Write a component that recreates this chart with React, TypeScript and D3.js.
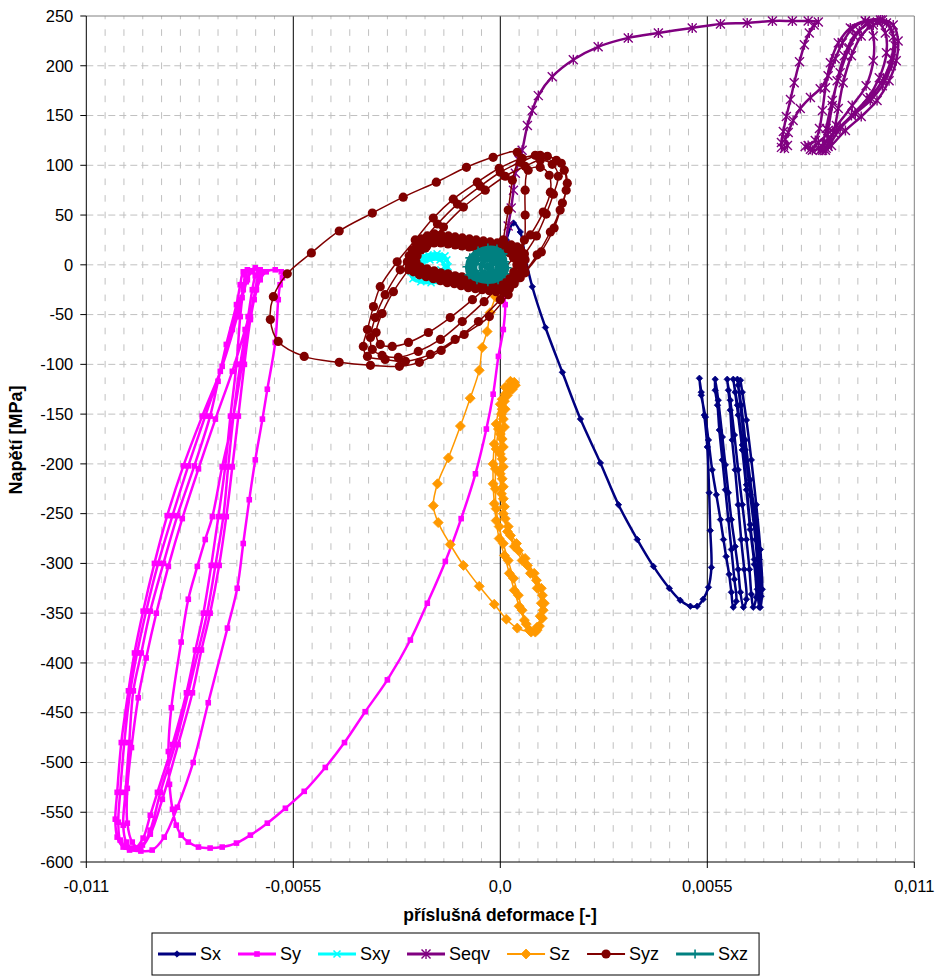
import React from "react";
import * as d3 from "d3";

type P = [number, number];

const seriesNames = ["Sx", "Sy", "Sxy", "Seqv", "Sz", "Syz", "Sxz"];
const xTickValues = [-0.011, -0.0055, 0, 0.0055, 0.011];
const xTickLabels = ["-0,011", "-0,0055", "0,0", "0,0055", "0,011"];
const yTickValues = [250, 200, 150, 100, 50, 0, -50, -100, -150, -200, -250, -300, -350, -400, -450, -500, -550, -600];

const sxData: P[] = [
  [0, 3], [0.00016, 25], [0.00035, 42], [0.00053, 33], [0.00066, 8], [0.00085, -22], [0.0012, -63], [0.00165, -108], [0.00213, -155], [0.00266, -199], [0.00314, -241], [0.00364, -276], [0.00407, -303], [0.00449, -325], [0.00478, -337], [0.00505, -343], [0.00523, -343], [0.00539, -336], [0.00553, -324], [0.00561, -304], [0.00558, -267], [0.00555, -229], [0.0055, -183], [0.00542, -151], [0.00534, -128], [0.00529, -114],
  [0.00534, -131], [0.00545, -153], [0.00553, -176], [0.00563, -206], [0.00574, -231], [0.00585, -256], [0.00593, -276], [0.006, -293], [0.00608, -311], [0.00614, -329], [0.00619, -344],
  [0.00627, -338], [0.00622, -316], [0.00614, -286], [0.00606, -256], [0.00598, -226], [0.0059, -196], [0.00582, -166], [0.00577, -141], [0.00571, -126], [0.00571, -115],
  [0.00579, -136], [0.0059, -173], [0.00598, -201], [0.00606, -229], [0.00614, -256], [0.00624, -283], [0.00632, -306], [0.00638, -329], [0.00646, -344],
  [0.00654, -336], [0.00648, -306], [0.0064, -276], [0.00632, -241], [0.00624, -206], [0.00616, -176], [0.00611, -146], [0.00606, -126], [0.00603, -115],
  [0.00611, -136], [0.00622, -171], [0.00632, -206], [0.00643, -241], [0.00654, -276], [0.00662, -306], [0.00667, -331], [0.00672, -344],
  [0.0068, -334], [0.00675, -301], [0.00664, -266], [0.00654, -226], [0.00643, -186], [0.00632, -151], [0.00624, -128], [0.00619, -115],
  [0.0063, -141], [0.00643, -181], [0.00654, -221], [0.00664, -261], [0.00675, -296], [0.00683, -326], [0.00688, -344],
  [0.00693, -333], [0.00688, -296], [0.00678, -256], [0.00664, -216], [0.00651, -176], [0.0064, -141], [0.00632, -121], [0.0063, -115],
  [0.00638, -141], [0.00651, -186], [0.00664, -231], [0.00678, -276], [0.00686, -316], [0.00691, -344],
  [0.00696, -326], [0.00691, -286], [0.0068, -241], [0.00667, -196], [0.00654, -156], [0.00643, -128], [0.00638, -116],
];

const syData: P[] = [
  [0, 3], [0.00003, -15], [0.00013, -40], [0.00008, -65], [-0.00005, -92], [-0.00019, -130], [-0.00037, -165], [-0.00066, -210], [-0.00104, -255], [-0.00146, -298], [-0.00194, -340], [-0.00239, -377], [-0.003, -417], [-0.00359, -449], [-0.00414, -480], [-0.00465, -505], [-0.00521, -529], [-0.00571, -546], [-0.00619, -561], [-0.00664, -573], [-0.00701, -581], [-0.00739, -585], [-0.00771, -586], [-0.00802, -585], [-0.00829, -580], [-0.00848, -573], [-0.00861, -563], [-0.00871, -547], [-0.00879, -522], [-0.00882, -489], [-0.00874, -445], [-0.00848, -379], [-0.00829, -336], [-0.00805, -303], [-0.00784, -276], [-0.00765, -253], [-0.00739, -203], [-0.00709, -152], [-0.00686, -100], [-0.00664, -52], [-0.00651, -25], [-0.00643, -10], [-0.00638, -5],
  [-0.00651, -3], [-0.00664, -7], [-0.00675, -17], [-0.00691, -35], [-0.00712, -65], [-0.00744, -107], [-0.00784, -152], [-0.00829, -202], [-0.00871, -252], [-0.00909, -300], [-0.00941, -348], [-0.00965, -390], [-0.00983, -428], [-0.00999, -480], [-0.0101, -530], [-0.01015, -560], [-0.0101, -578], [-0.00994, -585],
  [-0.0097, -586], [-0.00949, -576], [-0.0093, -553], [-0.00911, -530], [-0.00871, -482], [-0.00834, -430], [-0.0081, -387], [-0.00789, -350], [-0.00768, -302], [-0.00749, -253], [-0.00731, -203], [-0.00717, -152], [-0.00701, -100], [-0.00691, -52], [-0.00683, -25], [-0.00678, -10], [-0.00672, -5],
  [-0.00683, -7], [-0.00691, -20], [-0.00701, -40], [-0.00728, -80], [-0.0075, -117], [-0.00771, -152], [-0.00813, -202], [-0.00858, -252], [-0.00895, -300], [-0.0093, -348], [-0.00954, -390], [-0.00975, -428], [-0.00986, -480], [-0.00996, -530], [-0.01002, -563], [-0.00994, -580], [-0.00975, -586],
  [-0.00951, -583], [-0.0093, -568], [-0.00903, -530], [-0.00864, -482], [-0.00829, -430], [-0.00802, -387], [-0.00779, -350], [-0.00757, -302], [-0.00736, -253], [-0.00723, -203], [-0.00709, -152], [-0.00691, -100], [-0.0067, -52], [-0.00659, -25], [-0.00651, -11], [-0.00643, -5],
  [-0.00659, -6], [-0.00672, -15], [-0.00686, -33], [-0.00699, -52], [-0.00739, -102], [-0.00792, -152], [-0.00842, -202], [-0.00885, -252], [-0.00919, -300], [-0.00949, -348], [-0.00972, -390], [-0.00988, -428], [-0.01007, -480], [-0.01018, -530], [-0.01023, -557], [-0.01018, -575], [-0.01002, -585],
  [-0.00985, -588], [-0.00955, -589], [-0.00925, -588], [-0.00893, -575], [-0.00858, -545], [-0.00816, -500], [-0.00776, -440], [-0.00725, -365], [-0.00699, -325], [-0.00683, -280], [-0.00667, -236], [-0.00651, -196], [-0.00632, -155], [-0.00619, -125], [-0.00598, -78], [-0.0059, -35], [-0.00585, -20], [-0.00579, -13], [-0.00582, -7],
  [-0.00598, -5], [-0.00622, -7], [-0.00638, -15], [-0.00654, -35], [-0.00678, -65], [-0.00712, -107], [-0.00757, -155], [-0.00802, -205], [-0.00845, -255], [-0.00882, -303], [-0.00914, -350], [-0.00941, -395], [-0.00962, -435], [-0.0098, -485], [-0.00991, -526], [-0.00991, -561], [-0.00978, -580], [-0.00957, -586],
  [-0.0093, -572], [-0.00898, -537], [-0.00856, -482], [-0.00818, -430], [-0.00794, -387], [-0.00771, -350], [-0.00747, -302], [-0.00728, -253], [-0.00712, -203], [-0.00696, -152], [-0.0068, -100], [-0.00664, -55], [-0.00648, -25], [-0.00632, -7],
];

const sxyData: P[] = [
  [-0.00147, 9], [-0.00168, 11], [-0.00192, 10], [-0.00213, 7], [-0.00229, 1], [-0.00237, -7], [-0.00232, -14], [-0.00211, -17], [-0.00184, -18], [-0.0016, -16], [-0.00144, -10], [-0.00139, -2], [-0.00142, 5],
  [-0.00155, 7], [-0.00176, 8], [-0.00197, 7], [-0.00216, 3], [-0.00224, -4], [-0.00221, -11], [-0.00203, -15], [-0.00176, -15], [-0.00155, -11], [-0.00147, -3],
  [-0.0016, 5], [-0.00187, 5], [-0.00206, 1], [-0.00211, -6], [-0.00197, -11], [-0.00171, -11], [-0.00158, -5],
];

const seqvData: P[] = [
  [0, 0], [0.00005, 7], [0.00013, 20], [0.00021, 39], [0.00029, 57], [0.00035, 75], [0.0004, 92], [0.0005, 105], [0.00058, 115], [0.00072, 140], [0.00085, 155], [0.00101, 170], [0.00138, 189], [0.00194, 206], [0.0026, 219], [0.0034, 228], [0.0042, 233], [0.0051, 238], [0.00585, 242], [0.00656, 243], [0.00723, 245], [0.00776, 245], [0.00818, 245], [0.00845, 244],
  [0.00834, 241], [0.00821, 233], [0.00808, 221], [0.00795, 204], [0.00781, 183], [0.00771, 166], [0.0076, 149], [0.00752, 134], [0.00747, 123], [0.00747, 118], [0.00755, 117], [0.00763, 120], [0.00757, 126], [0.00765, 133],
  [0.00778, 145], [0.00797, 157], [0.00824, 168], [0.0085, 177], [0.00871, 190], [0.0089, 207], [0.00909, 223], [0.00935, 237], [0.0097, 245], [0.0101, 246], [0.01036, 238], [0.01049, 220], [0.01039, 200], [0.01015, 180], [0.00983, 165], [0.00943, 152], [0.00903, 139], [0.00871, 127], [0.00845, 117], [0.00829, 115], [0.00818, 120], [0.00837, 125],
  [0.00848, 137], [0.00856, 155], [0.00864, 178], [0.00877, 203], [0.00898, 223], [0.0093, 238], [0.0097, 245], [0.01002, 244], [0.01023, 233], [0.01026, 213], [0.01007, 188], [0.00975, 167], [0.00933, 150], [0.00893, 135], [0.00861, 122], [0.0085, 115], [0.00866, 117],
  [0.00871, 135], [0.00882, 160], [0.00895, 185], [0.00914, 210], [0.0094, 230], [0.00975, 242], [0.01015, 246], [0.01044, 241], [0.01057, 225], [0.01052, 205], [0.01033, 185], [0.01001, 165], [0.00959, 149], [0.00917, 135], [0.0088, 120], [0.00864, 115],
  [0.00885, 133], [0.00898, 157], [0.00911, 183], [0.00933, 210], [0.00959, 230], [0.00991, 241], [0.01026, 243], [0.01044, 229], [0.01039, 207], [0.01018, 187], [0.00983, 168], [0.00943, 152], [0.00903, 137], [0.00871, 119], [0.00856, 115],
  [0.00866, 137], [0.00882, 165], [0.00903, 193], [0.00927, 218], [0.00954, 235], [0.00978, 243], [0.00991, 230], [0.00991, 205], [0.00972, 180], [0.00935, 160], [0.00893, 140], [0.00845, 123], [0.00824, 116], [0.0081, 119],
];

const szData: P[] = [
  [0, -1], [-0.00005, -15], [-0.00013, -32], [-0.00027, -48], [-0.00035, -67], [-0.00048, -83], [-0.00056, -106], [-0.0008, -134], [-0.00106, -162], [-0.00138, -194], [-0.00167, -220], [-0.00178, -242], [-0.00165, -259], [-0.00133, -281], [-0.00098, -302], [-0.00056, -323], [-0.00016, -341], [0.00016, -356], [0.00045, -365], [0.0008, -368], [0.00098, -364], [0.00106, -353],
  [0.00109, -340], [0.00098, -325], [0.0008, -310], [0.00058, -297], [0.00037, -283], [0.00019, -268], [0.00008, -250], [0.00003, -230], [0, -210], [0, -190], [0, -170], [0.00003, -150], [0.00005, -135], [0.00013, -123], [0.00027, -117], [0.00037, -118], [0.00032, -125], [0.00013, -130],
  [0, -140], [-0.00011, -160], [-0.00016, -180], [-0.00019, -200], [-0.00019, -220], [-0.00016, -240], [-0.00011, -257], [-0.00003, -275], [0.00011, -292], [0.00024, -310], [0.00037, -327], [0.0005, -343], [0.00064, -357], [0.00077, -367], [0.00093, -369], [0.00104, -363],
  [0.00114, -347], [0.00112, -332], [0.00096, -317], [0.00072, -302], [0.00048, -287], [0.00027, -272], [0.00013, -255], [0.00008, -235], [0.00005, -215], [0.00005, -195], [0.00005, -175], [0.00008, -155], [0.00011, -137], [0.00019, -124], [0.00032, -119], [0.00021, -127],
  [0.00005, -145], [-0.00005, -165], [-0.00011, -185], [-0.00013, -205], [-0.00013, -225], [-0.00011, -245], [-0.00003, -263], [0.00008, -280], [0.00021, -297], [0.00035, -315], [0.00048, -332], [0.00058, -347], [0.00069, -361], [0.00082, -369],
  [0.00098, -367], [0.00112, -355], [0.00117, -340], [0.00109, -325], [0.0009, -310], [0.00066, -295], [0.00043, -280], [0.00021, -263], [0.00011, -243], [0.00008, -223], [0.00008, -203], [0.00008, -183], [0.00011, -163], [0.00013, -145], [0.00019, -131], [0.00029, -123], [0.0004, -121],
];

const syzData: P[] = [
  [0, 0], [0.00008, 25], [0.00021, 55], [0.00032, 85], [0.00045, 113],
  [-0.00019, 108], [-0.0009, 98], [-0.0017, 83], [-0.00258, 68], [-0.0034, 52], [-0.00428, 34], [-0.00502, 12], [-0.00566, -9], [-0.00603, -32], [-0.00611, -55], [-0.0059, -77], [-0.00521, -92], [-0.00428, -98], [-0.00345, -101], [-0.00268, -102], [-0.00215, -98], [-0.00157, -86], [-0.00096, -70], [-0.00029, -52], [0.00021, -30], [0.00066, -8], [0.00109, 13], [0.00143, 37], [0.00165, 62], [0.00178, 82], [0.00162, 102], [0.00125, 109], [0.00093, 110],
  [0.00058, 107], [-0.00003, 97], [-0.00061, 83], [-0.00125, 66], [-0.00178, 47], [-0.00226, 25], [-0.00274, 3], [-0.00319, -22], [-0.00337, -42], [-0.00353, -65], [-0.00364, -82], [-0.00353, -92], [-0.00306, -95],
  [-0.00252, -97], [-0.00186, -90], [-0.0012, -75], [-0.00058, -57], [0, -35], [0.00053, -13], [0.00098, 10], [0.00133, 33], [0.00159, 55], [0.00175, 75], [0.0017, 95], [0.00149, 105], [0.00106, 110],
  [0.00053, 103], [0, 93], [-0.00053, 79], [-0.00114, 61], [-0.00167, 41], [-0.00218, 19], [-0.00266, -5], [-0.00306, -30], [-0.00332, -53], [-0.00345, -73], [-0.0034, -85], [-0.00314, -91],
  [-0.00271, -93], [-0.00218, -87], [-0.00159, -75], [-0.00101, -57], [-0.00043, -37], [0.00011, -15], [0.00058, 7], [0.00096, 29], [0.00122, 51], [0.00141, 71], [0.00154, 89], [0.00138, 101], [0.00106, 105],
  [0.00066, 99], [0.00013, 89], [-0.0004, 75], [-0.00098, 58], [-0.00151, 38], [-0.00199, 17], [-0.00244, -5], [-0.00284, -27], [-0.00314, -49], [-0.0033, -68], [-0.00319, -80], [-0.00287, -82],
  [-0.00244, -78], [-0.00191, -68], [-0.00133, -53], [-0.00074, -35], [-0.00016, -15], [0.00035, 7], [0.0008, 30], [0.00114, 53], [0.00133, 73], [0.0013, 90], [0.00106, 98], [0.00074, 95],
  [0.00066, 75], [0.00066, 50], [0.00064, 25],
  [0.00053, 16], [0.00064, 11], [0.00066, 5], [0.00061, -1], [0.00056, -7], [0.00048, -13], [0.00037, -19], [0.00024, -24], [0.00008, -27], [-0.00011, -27], [-0.00029, -26], [-0.00048, -25], [-0.00066, -24], [-0.00085, -23], [-0.00104, -21], [-0.00122, -19], [-0.00141, -18], [-0.00159, -16], [-0.00178, -14], [-0.00197, -12], [-0.00215, -10], [-0.00231, -7], [-0.00242, -3], [-0.00247, 3], [-0.00242, 9], [-0.00234, 15], [-0.00223, 21], [-0.0021, 26], [-0.00194, 29], [-0.00175, 31], [-0.00157, 30], [-0.00138, 29], [-0.0012, 28], [-0.00101, 27], [-0.00082, 26], [-0.00064, 25], [-0.00045, 24], [-0.00027, 23], [-0.00008, 22], [0.00011, 21], [0.00029, 20], [0.00045, 18],
  [0.00058, 12], [0.00061, 5], [0.00056, -2], [0.00048, -9], [0.00037, -15], [0.00021, -20], [0.00003, -23], [-0.00016, -23], [-0.00035, -22], [-0.00053, -21], [-0.00072, -20], [-0.0009, -19], [-0.00109, -17], [-0.00128, -16], [-0.00146, -14], [-0.00165, -12], [-0.00183, -10], [-0.00202, -8], [-0.00218, -5], [-0.00231, -1], [-0.00234, 5], [-0.00228, 11], [-0.00218, 17], [-0.00204, 22], [-0.00189, 25], [-0.0017, 27], [-0.00151, 26], [-0.00133, 25], [-0.00114, 24], [-0.00096, 23], [-0.00077, 22], [-0.00058, 21], [-0.0004, 20], [-0.00021, 19], [-0.00003, 18], [0.00016, 17], [0.00035, 15], [0.00048, 12],
  [0.00031, 12], [0.00044, 7], [0.00044, 0], [0.00036, -7], [0.00026, -13], [0.0001, -17], [-0.00009, -18], [-0.00027, -17], [-0.00046, -16], [-0.00065, -15], [-0.00083, -14], [-0.00102, -12], [-0.0012, -11], [-0.00139, -9], [-0.00158, -8], [-0.00176, -6], [-0.00195, -4], [-0.00213, -2], [-0.00224, 3], [-0.00221, 9], [-0.00211, 15], [-0.00195, 19], [-0.00176, 22], [-0.00158, 22], [-0.00139, 21], [-0.0012, 20], [-0.00102, 19], [-0.00083, 18], [-0.00065, 17], [-0.00046, 16], [-0.00027, 15], [-0.00009, 14], [0.0001, 13], [0.00026, 12],
];

const sxzData: P[] = [
  [0, 3], [0.00012, 3], [0.00007, 11], [-0.00009, 16], [-0.00033, 17], [-0.00059, 14], [-0.00081, 7], [-0.00088, -2], [-0.00083, -10], [-0.00062, -15], [-0.00033, -17], [-0.00006, -15], [0.00012, -9], [0.00018, -3],
  [0.00005, 6], [-0.00011, 12], [-0.00035, 13], [-0.00059, 10], [-0.00075, 3], [-0.00078, -5], [-0.00065, -12], [-0.00035, -14], [-0.00009, -12], [0.00007, -6], [0.0001, 1],
  [-0.00003, 7], [-0.00025, 9], [-0.00049, 7], [-0.00065, 1], [-0.00065, -6], [-0.00049, -11], [-0.00022, -11], [-0.00003, -6], [0.00002, 1],
  [-0.00014, 4], [-0.00035, 5], [-0.00051, 0], [-0.00049, -6], [-0.0003, -8], [-0.00011, -5], [-0.00009, 1],
  [-0.00027, 1], [-0.00041, -2], [-0.00027, -4], [-0.00019, -1],
];

const seriesData: P[][] = [sxData, syData, sxyData, seqvData, szData, syzData, sxzData];

type Style = { color: string; marker: string; size: number; lw: number; legendLw: number };
const styles: Style[] = [
  { color: "#000080", marker: "diamond", size: 3.2, lw: 2.5, legendLw: 3 },
  { color: "#FF00FF", marker: "square", size: 2.8, lw: 2.5, legendLw: 3 },
  { color: "#00FFFF", marker: "x", size: 3.5, lw: 3.5, legendLw: 3 },
  { color: "#800080", marker: "star", size: 4.5, lw: 2.5, legendLw: 3 },
  { color: "#FF9900", marker: "diamond", size: 5, lw: 1.5, legendLw: 2 },
  { color: "#800000", marker: "circle", size: 4.6, lw: 1.5, legendLw: 2 },
  { color: "#008080", marker: "plus", size: 4.5, lw: 4.5, legendLw: 3 },
];

const W = 939, H = 980;
const L = 86.3, R = 914.3, T = 16, B = 862;
const FONT = "'Liberation Sans', Arial, sans-serif";

function Marker({ type, cx, cy, color, s }: { type: string; cx: number; cy: number; color: string; s: number }) {
  switch (type) {
    case "diamond":
      return <path d={`M${cx},${cy - s}L${cx + s},${cy}L${cx},${cy + s}L${cx - s},${cy}Z`} fill={color} stroke={color} strokeWidth={0.8} />;
    case "square":
      return <rect x={cx - s} y={cy - s} width={2 * s} height={2 * s} fill={color} />;
    case "circle":
      return <circle cx={cx} cy={cy} r={s} fill={color} />;
    case "x":
      return <path d={`M${cx - s},${cy - s}L${cx + s},${cy + s}M${cx - s},${cy + s}L${cx + s},${cy - s}`} stroke={color} strokeWidth={1.5} />;
    case "plus":
      return <path d={`M${cx - s},${cy}L${cx + s},${cy}M${cx},${cy - s}L${cx},${cy + s}`} stroke={color} strokeWidth={1.6} />;
    case "star":
      return <path d={`M${cx - s},${cy - s}L${cx + s},${cy + s}M${cx - s},${cy + s}L${cx + s},${cy - s}M${cx},${cy - s - 0.5}L${cx},${cy + s + 0.5}`} stroke={color} strokeWidth={1.4} />;
    default:
      return null;
  }
}

export default function App() {
  const x = d3.scaleLinear().domain([-0.011, 0.011]).range([L, R]);
  const y = d3.scaleLinear().domain([-600, 250]).range([B, T]);
  const line = d3.line<P>().x((d) => x(d[0])).y((d) => y(d[1])).curve(d3.curveCatmullRom.alpha(0.5));

  const minorX = d3.range(-0.011, 0.01101, 0.0005).filter((v) => !xTickValues.some((t) => Math.abs(t - v) < 1e-9));
  const majorInner = [-0.0055, 0, 0.0055];

  const legendFont = 18;
  const charW: Record<string, number> = { S: 0.667, x: 0.5, y: 0.5, e: 0.556, q: 0.556, v: 0.5, z: 0.5 };
  const textW = (s: string) => s.split("").reduce((a, c) => a + (charW[c] || 0.55) * legendFont, 0);
  const entries: { name: string; x0: number; tx: number }[] = [];
  let cur = 158;
  seriesNames.forEach((n) => {
    entries.push({ name: n, x0: cur, tx: cur + 42 });
    cur += 42 + textW(n) + 17;
  });
  const legLeft = 152, legRight = cur - 6, legTop = 933, legBottom = 975, legY = (legTop + legBottom) / 2;

  return (
    <svg width={W} height={H} style={{ position: "absolute", left: 0, top: 0, background: "#fff" }} fontFamily={FONT}>
      <defs>
        <clipPath id="plotClip">
          <rect x={L} y={T - 6} width={R - L + 6} height={B - T + 6} />
        </clipPath>
      </defs>
      <rect x={0} y={0} width={W} height={H} fill="#fff" />
      {yTickValues.filter((v) => v !== 250 && v !== -600).map((v) => (
        <line key={`h${v}`} x1={L} x2={R} y1={y(v)} y2={y(v)} stroke="#c0c0c0" strokeWidth={1} strokeDasharray="7,4" />
      ))}
      {minorX.map((v) => (
        <line key={`v${v}`} x1={x(v)} x2={x(v)} y1={T} y2={B} stroke="#c0c0c0" strokeWidth={1} strokeDasharray="6.6,9.98" strokeDashoffset={3.3} />
      ))}
      {majorInner.map((v) => (
        <line key={`m${v}`} x1={x(v)} x2={x(v)} y1={T} y2={B} stroke="#000" strokeWidth={1} />
      ))}
      <line x1={L} x2={R} y1={T} y2={T} stroke="#808080" strokeWidth={1} />
      <line x1={R} x2={R} y1={T} y2={B} stroke="#808080" strokeWidth={1} />

      <g clipPath="url(#plotClip)">
        {seriesData.map((data, i) => {
          const st = styles[i];
          return (
            <g key={seriesNames[i]}>
              <path d={line(data) || ""} fill="none" stroke={st.color} strokeWidth={st.lw} strokeLinejoin="round" />
              {data.map((d, j) => (
                <Marker key={j} type={st.marker} cx={x(d[0])} cy={y(d[1])} color={st.color} s={st.size} />
              ))}
            </g>
          );
        })}
      </g>

      <line x1={L} x2={L} y1={T} y2={B} stroke="#000" strokeWidth={1} />
      <line x1={L} x2={R} y1={B} y2={B} stroke="#000" strokeWidth={1} />
      {yTickValues.map((v) => (
        <g key={`yt${v}`}>
          <line x1={L - 6} x2={L} y1={y(v)} y2={y(v)} stroke="#000" />
          <text x={L - 13} y={y(v)} dy="0.35em" textAnchor="end" fontSize={16.5} fill="#000">{v}</text>
        </g>
      ))}
      {xTickValues.map((v, i) => (
        <g key={`xt${v}`}>
          <line x1={x(v)} x2={x(v)} y1={B} y2={B + 6} stroke="#000" />
          <text x={x(v)} y={B + 30} textAnchor="middle" fontSize={16.5} fill="#000">{xTickLabels[i]}</text>
        </g>
      ))}
      <text x={500} y={921} textAnchor="middle" fontSize={17.5} fontWeight="bold">příslušná deformace [-]</text>
      <text transform={`translate(22,440) rotate(-90)`} textAnchor="middle" fontSize={18} fontWeight="bold">Napětí [MPa]</text>

      <rect x={legLeft} y={legTop} width={legRight - legLeft} height={legBottom - legTop} fill="#fff" stroke="#000" strokeWidth={1} />
      {entries.map((e, i) => {
        const st = styles[i];
        return (
          <g key={`lg${e.name}`}>
            <line x1={e.x0} x2={e.x0 + 38} y1={legY} y2={legY} stroke={st.color} strokeWidth={st.legendLw} />
            <Marker type={st.marker} cx={e.x0 + 19} cy={legY} color={st.color} s={st.size} />
            <text x={e.tx} y={legY} dy="0.36em" fontSize={legendFont}>{e.name}</text>
          </g>
        );
      })}
    </svg>
  );
}
